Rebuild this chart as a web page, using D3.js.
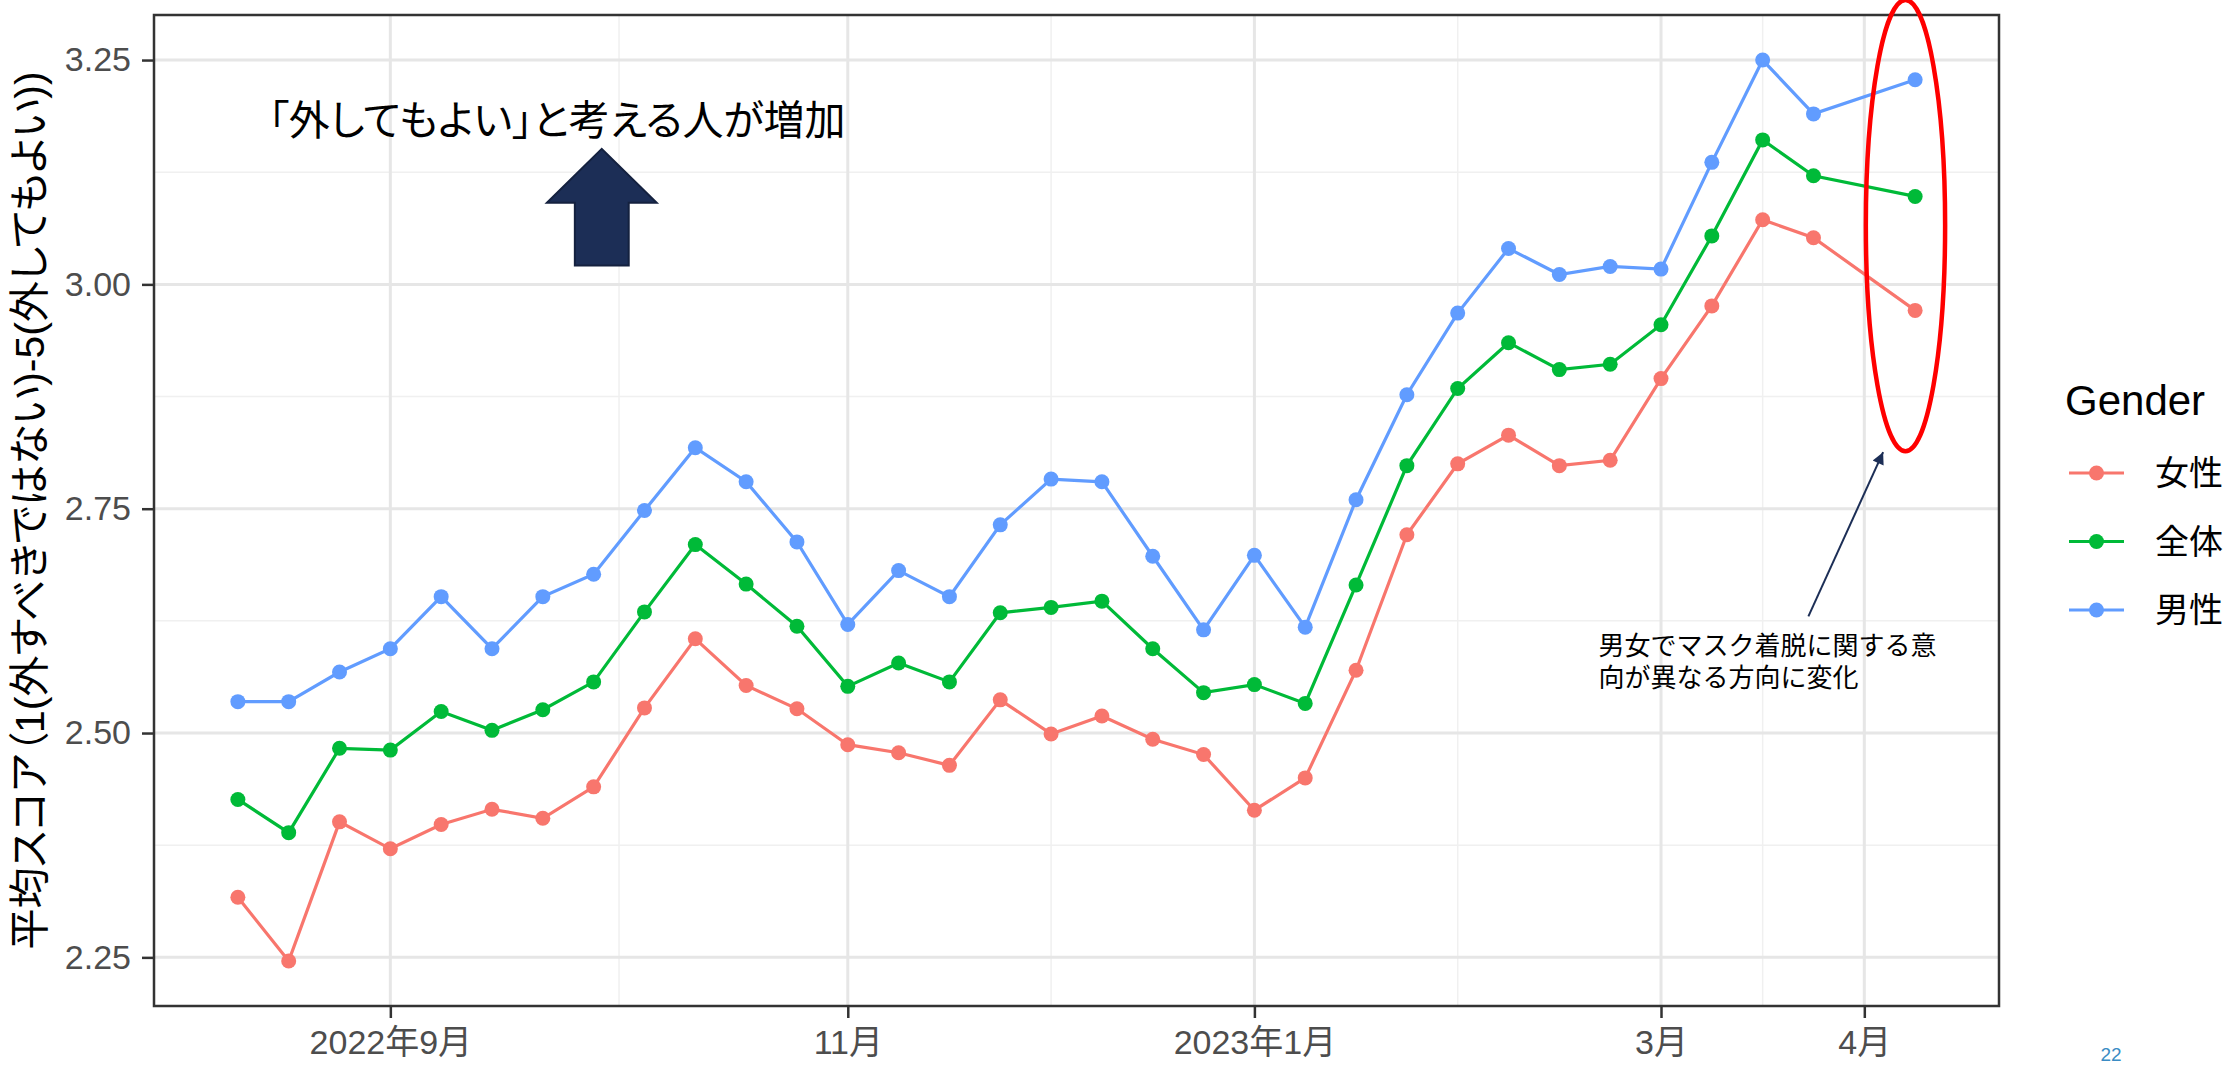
<!DOCTYPE html>
<html>
<head>
<meta charset="utf-8">
<script src="https://cdn.jsdelivr.net/npm/d3@7"></script>
<style>
body { margin: 0; background: #fff; }
text { font-family: "Liberation Sans", Arial, "Noto Sans CJK JP", sans-serif; }
.jp { font-family: "Noto Sans CJK JP", sans-serif; }
.palt { font-feature-settings: "palt"; }
</style>
</head>
<body>
<script>
// データ（調査週インデックス、最後の回は1週あく）
var weeks = [0, 1, 2, 3, 4, 5, 6, 7, 8, 9, 10, 11, 12, 13, 14, 15, 16, 17, 18, 19, 20,
             21, 22, 23, 24, 25, 26, 27, 28, 29, 30, 31, 33];
var female = [2.317, 2.246, 2.401, 2.371, 2.398, 2.415, 2.405, 2.440, 2.528, 2.605, 2.553,
              2.527, 2.487, 2.478, 2.464, 2.537, 2.499, 2.519, 2.493, 2.476, 2.414, 2.450,
              2.570, 2.721, 2.800, 2.832, 2.798, 2.804, 2.895, 2.976, 3.072, 3.052, 2.971];
var total = [2.426, 2.389, 2.483, 2.481, 2.524, 2.503, 2.526, 2.557, 2.635, 2.710, 2.666,
             2.619, 2.552, 2.578, 2.557, 2.634, 2.640, 2.647, 2.594, 2.545, 2.554, 2.533,
             2.665, 2.798, 2.884, 2.935, 2.905, 2.911, 2.955, 3.054, 3.161, 3.121, 3.098];
var male = [2.535, 2.535, 2.568, 2.594, 2.652, 2.594, 2.652, 2.677, 2.748, 2.818, 2.780,
            2.713, 2.621, 2.681, 2.652, 2.732, 2.783, 2.780, 2.697, 2.615, 2.698, 2.618,
            2.760, 2.877, 2.968, 3.040, 3.011, 3.020, 3.017, 3.136, 3.250, 3.190, 3.228];
var categories = ["女性", "全体", "男性"];
var colors = ["#F8766D", "#00BA38", "#619CFF"];
var tickWeeks = [3, 12, 20, 28, 32];
var tickLabels = ["2022年9月", "11月", "2023年1月", "3月", "4月"];
var yTicks = [2.25, 2.50, 2.75, 3.00, 3.25];

var margin = {top: 15, right: 235, bottom: 59, left: 154},
    width = 2234 - margin.left - margin.right,
    height = 1065 - margin.top - margin.bottom;

var series = [female, total, male].map(function(vals, i) {
    return {name: categories[i], color: colors[i],
            values: vals.map(function(v, j) { return {x: weeks[j], y: v}; })};
});

// ggplot風に5%広げる
function expand(ext) {
    var d = (ext[1] - ext[0]) * 0.05;
    return [ext[0] - d, ext[1] + d];
}
var x = d3.scaleLinear()
    .domain(expand(d3.extent(weeks)))
    .range([0, width]);
var y = d3.scaleLinear()
    .domain(expand(d3.extent(female.concat(total, male))))
    .range([height, 0]);

var svg = d3.select("body").append("svg")
    .attr("width", 2234)
    .attr("height", 1065);

var g = svg.append("g")
    .attr("transform", "translate(" + margin.left + "," + margin.top + ")");

// 補助グリッド（主目盛りの中間）
var xMinor = d3.pairs(tickWeeks).map(function(p) { return (p[0] + p[1]) / 2; });
var yMinor = d3.pairs(yTicks).map(function(p) { return (p[0] + p[1]) / 2; });

g.selectAll(".ygrid-minor").data(yMinor).enter().append("line")
    .attr("x1", 0).attr("x2", width)
    .attr("y1", y).attr("y2", y)
    .attr("stroke", "#f0f0f0").attr("stroke-width", 1.5);
g.selectAll(".xgrid-minor").data(xMinor).enter().append("line")
    .attr("y1", 0).attr("y2", height)
    .attr("x1", x).attr("x2", x)
    .attr("stroke", "#f0f0f0").attr("stroke-width", 1.5);
g.selectAll(".ygrid").data(yTicks).enter().append("line")
    .attr("x1", 0).attr("x2", width)
    .attr("y1", y).attr("y2", y)
    .attr("stroke", "#e6e6e6").attr("stroke-width", 3);
g.selectAll(".xgrid").data(tickWeeks).enter().append("line")
    .attr("y1", 0).attr("y2", height)
    .attr("x1", x).attr("x2", x)
    .attr("stroke", "#e6e6e6").attr("stroke-width", 3);

// 線と点
var line = d3.line()
    .x(function(d) { return x(d.x); })
    .y(function(d) { return y(d.y); });

series.forEach(function(s) {
    g.append("path")
        .datum(s.values)
        .attr("fill", "none")
        .attr("stroke", s.color)
        .attr("stroke-width", 3.2)
        .attr("d", line);
});
series.forEach(function(s) {
    g.selectAll(null).data(s.values).enter().append("circle")
        .attr("cx", function(d) { return x(d.x); })
        .attr("cy", function(d) { return y(d.y); })
        .attr("r", 7.5)
        .attr("fill", s.color);
});

// 枠
g.append("rect")
    .attr("width", width).attr("height", height)
    .attr("fill", "none").attr("stroke", "#333").attr("stroke-width", 2.5);

// 軸
var xAxis = d3.axisBottom(x)
    .tickValues(tickWeeks)
    .tickFormat(function(d, i) { return tickLabels[i]; })
    .tickSize(12).tickSizeOuter(0).tickPadding(12);
var yAxis = d3.axisLeft(y)
    .tickValues(yTicks)
    .tickFormat(d3.format(".2f"))
    .tickSize(12).tickSizeOuter(0).tickPadding(11);

var gx = g.append("g").attr("transform", "translate(0," + height + ")").call(xAxis);
var gy = g.append("g").call(yAxis);
[gx, gy].forEach(function(a) {
    a.select(".domain").remove();
    a.selectAll(".tick line").attr("stroke", "#333").attr("stroke-width", 2.5);
    a.selectAll(".tick text").attr("fill", "#4d4d4d").attr("font-size", 34)
        .style("font-family", "'Liberation Sans', Arial, 'Noto Sans CJK JP', sans-serif");
});

// y軸タイトル
svg.append("text")
    .attr("class", "palt")
    .attr("transform", "translate(30," + (margin.top + height / 2) + ") rotate(-90)")
    .attr("text-anchor", "middle")
    .attr("dominant-baseline", "central")
    .attr("font-size", 41)
    .attr("fill", "#000")
    .text("平均スコア（1(外すべきではない)-5(外してもよい))");

// 注釈：上向き矢印
var ax = 7.16, aw = 1.08, sw = 0.53;
var arrowPts = [
    [ax, 3.151], [ax + aw, 3.091], [ax + sw, 3.091], [ax + sw, 3.021],
    [ax - sw, 3.021], [ax - sw, 3.091], [ax - aw, 3.091]
];
g.append("polygon")
    .attr("points", arrowPts.map(function(p) { return x(p[0]) + "," + y(p[1]); }).join(" "))
    .attr("fill", "#1c2e56")
    .attr("stroke", "#14213f")
    .attr("stroke-width", 2);

g.append("text")
    .attr("class", "jp palt")
    .attr("x", x(0.60))
    .attr("y", y(3.1865))
    .attr("dominant-baseline", "central")
    .attr("font-size", 41)
    .attr("fill", "#000")
    .text("「外してもよい」と考える人が増加");

// 注釈：赤い楕円
var ex0 = 32.03, ex1 = 33.59, ey0 = 2.814, ey1 = 3.317;
g.append("ellipse")
    .attr("cx", (x(ex0) + x(ex1)) / 2)
    .attr("cy", (y(ey0) + y(ey1)) / 2)
    .attr("rx", (x(ex1) - x(ex0)) / 2)
    .attr("ry", (y(ey0) - y(ey1)) / 2)
    .attr("fill", "none")
    .attr("stroke", "#ff0000")
    .attr("stroke-width", 4.5);

// 注釈：細い矢印と文章
svg.append("defs").append("marker")
    .attr("id", "head")
    .attr("viewBox", "0 0 10 10")
    .attr("refX", 10).attr("refY", 5)
    .attr("markerUnits", "userSpaceOnUse")
    .attr("markerWidth", 16).attr("markerHeight", 12)
    .attr("orient", "auto")
    .append("path")
    .attr("d", "M0,0L10,5L0,10z")
    .attr("fill", "#1c2e56");

g.append("line")
    .attr("x1", x(30.9)).attr("y1", y(2.630))
    .attr("x2", x(32.37)).attr("y2", y(2.813))
    .attr("stroke", "#1c2e56")
    .attr("stroke-width", 2)
    .attr("marker-end", "url(#head)");

["男女でマスク着脱に関する意", "向が異なる方向に変化"].forEach(function(t, i) {
    g.append("text")
        .attr("class", "jp")
        .attr("font-size", 26)
        .attr("fill", "#000")
        .attr("x", x(26.77))
        .attr("y", y(2.600) + i * 32)
        .attr("dominant-baseline", "central")
        .text(t);
});

// 凡例
var legend = svg.append("g").attr("transform", "translate(2065,0)");
legend.append("text")
    .attr("x", 0).attr("y", 415)
    .attr("font-size", 42)
    .attr("fill", "#000")
    .text("Gender");
var items = legend.selectAll(".item").data(series).enter().append("g")
    .attr("transform", function(d, i) { return "translate(0," + (473 + i * 68.5) + ")"; });
items.append("line")
    .attr("x1", 4).attr("x2", 59)
    .attr("stroke", function(d) { return d.color; })
    .attr("stroke-width", 3.2);
items.append("circle")
    .attr("cx", 31.5).attr("r", 7.5)
    .attr("fill", function(d) { return d.color; });
items.append("text")
    .attr("x", 90).attr("dominant-baseline", "central")
    .attr("font-size", 34).attr("fill", "#000")
    .text(function(d) { return d.name; });

// ページ番号
svg.append("text")
    .attr("x", 2111).attr("y", 1061)
    .attr("text-anchor", "middle")
    .attr("font-size", 19)
    .attr("fill", "#3a8cc4")
    .text("22");
</script>
</body>
</html>
